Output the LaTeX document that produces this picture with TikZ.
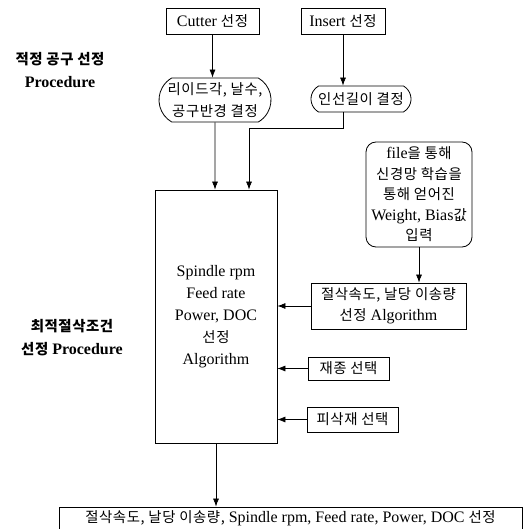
\documentclass[tikz,border=0pt]{standalone}
\usepackage{fontspec}
\setmainfont{Liberation Serif}
\newfontfamily\krfont[Scale=0.9,LetterSpace=4]{Noto Sans CJK KR}
\usepackage{tikz}
\usetikzlibrary{shapes,shapes.misc,arrows,arrows.meta,positioning}
\newcommand{\ko}[1]{{\krfont #1}}
\tikzstyle{stepbox} = [rectangle, draw, line width=0.8pt, align=center, inner sep=0pt, font=\fontsize{16}{21}\selectfont]
\tikzstyle{pill} = [rounded rectangle, rounded rectangle arc length=120, draw, line width=0.8pt, align=center, inner sep=0pt, font=\fontsize{16}{22}\selectfont]
\tikzstyle{roundbox} = [rectangle, rounded corners=10pt, draw, line width=0.8pt, align=center, inner sep=0pt, font=\fontsize{16}{20.5}\selectfont]
\tikzstyle{textonly} = [draw=none, fill=none, align=center, font=\bfseries\fontsize{16}{23}\selectfont]
\tikzstyle{tedge}  = [draw, line width=0.7pt, -{Latex[length=8pt,width=6pt]}]

\begin{document}
\begin{tikzpicture}[x=1pt, y=-1pt]
\useasboundingbox (0,0) rectangle (532,529);

% labels =============================
\node[textonly] (toollbl) at (60,70) {\ko{적정 공구 선정}\\Procedure};
\node[textonly] (condlbl) at (72,338) {\ko{최적절삭조건}\\\ko{선정} Procedure};

% tool selection =============================
\node[stepbox, minimum width=93pt, minimum height=26pt] (cutter) at (212.5,21) {Cutter \ko{선정}};
\node[stepbox, minimum width=84pt, minimum height=26pt] (insert) at (343,21) {Insert \ko{선정}};
\node[pill, minimum width=112pt, minimum height=44pt] (lead) at (215,100) {\ko{리이드각, 날수,}\\\ko{공구반경 결정}};
\node[pill, minimum width=100pt, minimum height=26pt] (inlen) at (361,99) {\ko{인선길이 결정}};

% cutting conditions =============================
\node[stepbox, minimum width=122pt, minimum height=253pt, font=\fontsize{16}{22}\selectfont] (main) at (216,316.5) {Spindle rpm\\Feed rate\\Power, DOC\\\ko{선정}\\Algorithm};
\node[roundbox, minimum width=106pt, minimum height=105pt] (file) at (419,194.5) {file\ko{을 통해}\\\ko{신경망 학습을}\\\ko{통해 얻어진}\\Weight, Bias\ko{값}\\\ko{입력}};
\node[stepbox, minimum width=155pt, minimum height=46pt] (algo) at (388.5,306) {\ko{절삭속도, 날당 이송량}\\\ko{선정} Algorithm};
\node[stepbox, minimum width=81pt, minimum height=23pt] (grade) at (348.5,368.5) {\ko{재종 선택}};
\node[stepbox, minimum width=91pt, minimum height=25pt] (work) at (352.5,419.5) {\ko{피삭재 선택}};
\node[stepbox, minimum width=463pt, minimum height=22pt] (result) at (290.5,518) {\ko{절삭속도, 날당 이송량,} Spindle rpm, Feed rate, Power, DOC \ko{선정}};

% edges
\coordinate (bend) at (249,128);
\path[tedge] (cutter) -- (cutter |- lead.north);
\path[tedge] (insert) -- (insert |- inlen.north);
\path[tedge] (lead) -- (lead |- main.north);
\path[tedge] (insert |- inlen.south) |- (bend) -- (bend |- main.north);
\path[tedge] (file) -- (file |- algo.north);
\path[tedge] (algo) -- (algo -| main.east);
\path[tedge] (grade) -- (grade -| main.east);
\path[tedge] (work) -- (work -| main.east);
\path[tedge] (main) -- (main |- result.north);

\end{tikzpicture}
\end{document}
